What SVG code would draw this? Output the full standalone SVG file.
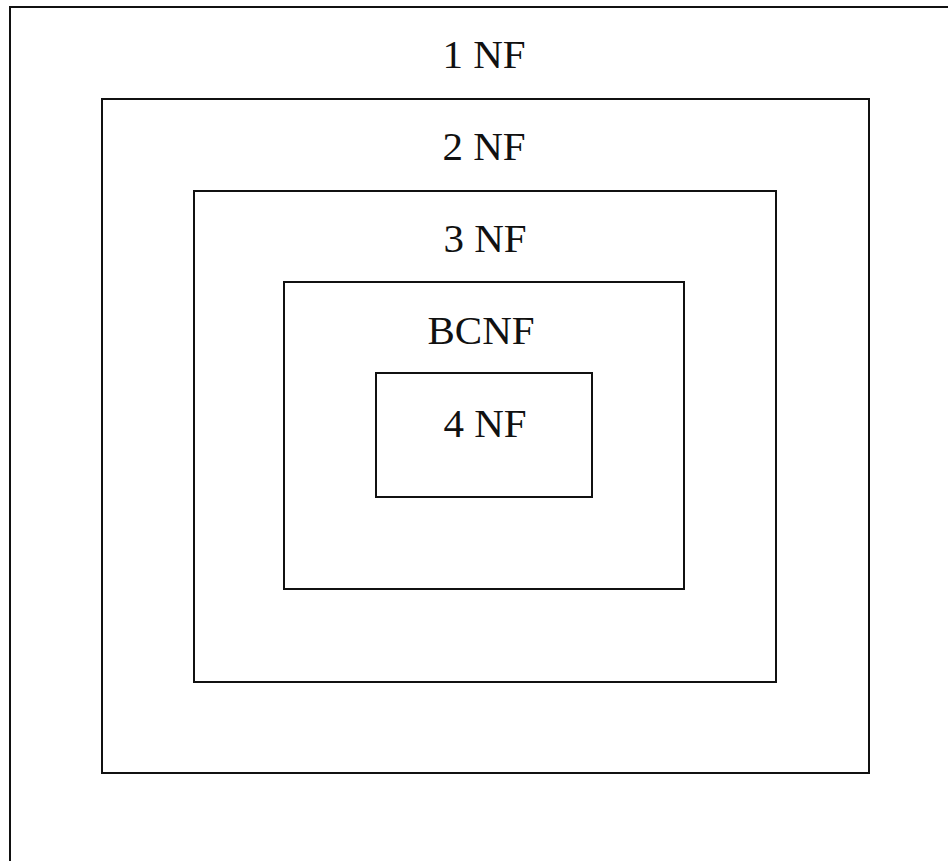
<svg xmlns="http://www.w3.org/2000/svg" width="948" height="861" viewBox="0 0 948 861">
  <style>
    .box { fill: none; stroke: #111; stroke-width: 2; }
    .lbl { font-family: "Liberation Serif", "Times New Roman", serif; font-size: 41px; fill: #111; text-anchor: middle; }
  </style>
  <rect width="948" height="861" fill="#fff"/>

  <!-- nested normal-form levels, outermost first -->
  <g id="nf1">
    <path class="box" d="M10,861 V7 H948"/>
    <text class="lbl" x="484" y="68">1 NF</text>
  </g>
  <g id="nf2">
    <rect class="box" x="102" y="99" width="767" height="674"/>
    <text class="lbl" x="484" y="160">2 NF</text>
  </g>
  <g id="nf3">
    <rect class="box" x="194" y="191" width="582" height="491"/>
    <text class="lbl" x="485" y="252">3 NF</text>
  </g>
  <g id="bcnf">
    <rect class="box" x="284" y="282" width="400" height="307"/>
    <text class="lbl" x="481" y="344">BCNF</text>
  </g>
  <g id="nf4">
    <rect class="box" x="376" y="373" width="216" height="124"/>
    <text class="lbl" x="485" y="437">4 NF</text>
  </g>
  <g id="connectors"/>
</svg>
